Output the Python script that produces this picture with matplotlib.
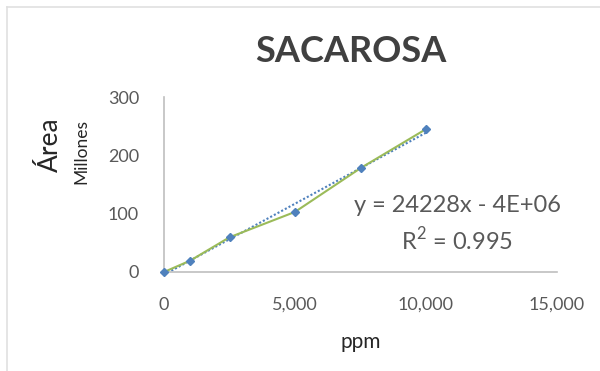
import numpy as np
import matplotlib
matplotlib.use("Agg")
import matplotlib.pyplot as plt
from matplotlib.lines import Line2D
from matplotlib.ticker import FuncFormatter

ppm = [0, 1000, 2500, 5000, 7500, 10000]
area_millones = [0, 19.5, 59.5, 103, 178, 245]
x_ticks = [0, 5000, 10000, 15000]
y_ticks = [0, 100, 200, 300]
title = "SACAROSA"
equation = "y = 24228x - 4E+06"
r2_text = "R$^2$ = 0.995"

plt.rcParams['font.family'] = ['Lato', 'DejaVu Sans']
plt.rcParams['mathtext.fontset'] = 'custom'
plt.rcParams['mathtext.rm'] = 'Lato'

fig = plt.figure(figsize=(6, 3.71), dpi=100)
ax = fig.add_axes([164/600, 1 - 272/371, (557-164)/600, (272-97)/371])

txt_col = "#595959"
axis_col = "#bfbfbf"

# trendline
coef = np.polyfit(ppm, area_millones, 1)
xt = np.array([min(ppm), max(ppm)])
ax.plot(xt, np.polyval(coef, xt), linestyle=(0, (1, 1)), color="#4F81BD", lw=1.5, zorder=2)
ax.plot(ppm, area_millones, color="#9BBB59", lw=1.5, marker="D", markersize=4,
        markerfacecolor="#4F81BD", markeredgecolor="#4F81BD", zorder=3, clip_on=False)

ax.set_xlim(0, 15000)
ax.set_ylim(0, 300)
ax.set_xticks(x_ticks)
ax.set_yticks(y_ticks)
ax.xaxis.set_major_formatter(FuncFormatter(lambda v, p: f"{int(v):,}"))
ax.tick_params(length=0, labelsize=13, labelcolor=txt_col)
ax.tick_params(axis='x', pad=18)
ax.tick_params(axis='y', pad=18)
for s in ["top", "right"]:
    ax.spines[s].set_visible(False)
for s in ["left", "bottom"]:
    ax.spines[s].set_color(axis_col)
    ax.spines[s].set_linewidth(1.2)

ax.set_xlabel("ppm", fontsize=15, color="#262626", labelpad=14)

fig.text(351/600, 1 - 52/371, title, fontsize=26, fontweight="bold", color="#404040",
         ha="center", va="center")
fig.text(50/600, 1 - 145/371, "Área", fontsize=19, color="#262626", rotation=90,
         ha="center", va="center")
fig.text(81/600, 1 - 152/371, "Millones", fontsize=12.5, color="#262626", rotation=90,
         ha="center", va="center")

ax.text(457/600, 1 - 206/371, equation, transform=fig.transFigure, fontsize=17,
        color=txt_col, ha="center", va="center")
ax.text(457/600, 1 - 240/371, r2_text, transform=fig.transFigure, fontsize=17,
        color=txt_col, ha="center", va="center")

# chart-area border (top and left)
fig.add_artist(Line2D([7/600, 1], [1 - 7/371, 1 - 7/371], transform=fig.transFigure,
                      color="#e0e0e0", lw=1.2))
fig.add_artist(Line2D([7/600, 7/600], [0, 1 - 7/371], transform=fig.transFigure,
                      color="#e0e0e0", lw=1.2))

fig.savefig("out.png", dpi=100)
